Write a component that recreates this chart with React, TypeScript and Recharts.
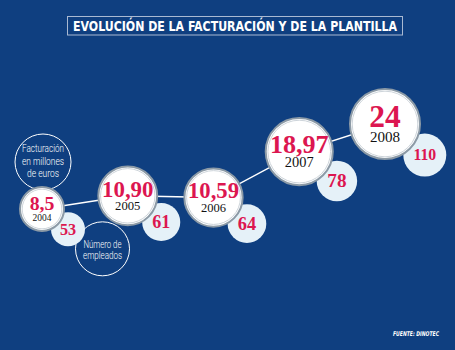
import { ScatterChart, Scatter, XAxis, YAxis } from "recharts";

const YEARS = [2004, 2005, 2006, 2007, 2008];
const REVENUE = [8.5, 10.9, 10.59, 18.97, 24];
const REVENUE_LABELS = ["8,5", "10,90", "10,59", "18,97", "24"];
const EMPLOYEES = [53, 61, 64, 78, 110];

const BG = "#0f3f80";
const RED = "#dc1650";
const SERIF = "'Liberation Serif', 'DejaVu Serif', serif";
const SANS = "'DejaVu Sans Condensed', 'DejaVu Sans', sans-serif";

const data = YEARS.map((year, i) => ({
  year,
  revenue: REVENUE[i],
  label: REVENUE_LABELS[i],
  employees: EMPLOYEES[i],
  idx: i,
}));

const minRev = Math.min(...REVENUE);
const maxRev = Math.max(...REVENUE);
const minEmp = Math.min(...EMPLOYEES);
const maxEmp = Math.max(...EMPLOYEES);

// bubble sizes grow with the value
const bigR = (v: number) => 22 + 13 * Math.pow((v - minRev) / (maxRev - minRev), 0.3);
const smallR = (n: number) => 17 + 4.5 * Math.pow((n - minEmp) / (maxEmp - minEmp), 0.4);

// rough width of a numeral string in em
const numEm = (s: string) =>
  s.split("").reduce((w, c) => w + (c === "," ? 0.25 : 0.5), 0);

function RevenueBubble(props: any) {
  const { cx, cy, payload } = props;
  const R = bigR(payload.revenue);
  const fs = Math.min(0.9 * R, (1.75 * R) / numEm(payload.label));
  const ys = 0.43 * R;
  const gap = 5;
  const block = 0.66 * fs + gap + 0.66 * ys;
  const numBase = cy - block / 2 + 0.66 * fs;
  const yearBase = cy + block / 2;

  return (
    <g>
      {payload.idx === 0 && (
        <g>
          <circle cx={cx + 1} cy={cy - R - 25} r={28} fill="none" stroke="#ffffff" strokeWidth={1} />
          <g fill="#ffffff" fontFamily="Roboto, sans-serif" fontWeight={300} fontSize={10} textAnchor="middle">
            <text x={cx + 1} y={cy - R - 35} textLength={42} lengthAdjust="spacingAndGlyphs">Facturación</text>
            <text x={cx + 1} y={cy - R - 22} textLength={42} lengthAdjust="spacingAndGlyphs">en millones</text>
            <text x={cx + 1} y={cy - R - 10} textLength={32} lengthAdjust="spacingAndGlyphs">de euros</text>
          </g>
        </g>
      )}
      <circle cx={cx} cy={cy} r={R} fill="#ffffff" stroke="#8c9aa6" strokeWidth={2} />
      <circle cx={cx} cy={cy} r={R - 2.2} fill="none" stroke="#cdd4da" strokeWidth={1} />
      <text x={cx} y={numBase} textAnchor="middle" fill={RED} fontFamily={SERIF} fontWeight="bold" fontSize={fs}>
        {payload.label}
      </text>
      <text x={cx} y={yearBase} textAnchor="middle" fill="#111111" fontFamily={SERIF} fontSize={ys}>
        {payload.year}
      </text>
    </g>
  );
}

function EmployeeBubble(props: any) {
  const { cx, cy, payload } = props;
  const R = bigR(payload.revenue);
  const r = smallR(payload.employees);
  const ang = (38 * Math.PI) / 180;
  const d = R + r - 6;
  const x = cx + d * Math.cos(ang);
  const y = cy + d * Math.sin(ang);
  const txt = String(payload.employees);
  const fs = Math.min(0.95 * r, (1.1 * r) / numEm(txt));

  return (
    <g>
      {payload.idx === 0 && (
        <g>
          <circle cx={x + 34.5} cy={y + 19.5} r={27} fill="none" stroke="#ffffff" strokeWidth={1} />
          <g fill="#ffffff" fontFamily="Roboto, sans-serif" fontWeight={300} fontSize={10} textAnchor="middle">
            <text x={x + 34.5} y={y + 19} textLength={38} lengthAdjust="spacingAndGlyphs">Número de</text>
            <text x={x + 34.5} y={y + 30} textLength={39} lengthAdjust="spacingAndGlyphs">empleados</text>
          </g>
        </g>
      )}
      <circle cx={x} cy={y} r={r} fill="#e5f1f8" />
      <text x={x} y={y + 0.33 * fs} textAnchor="middle" fill={RED} fontFamily={SERIF} fontWeight="bold" fontSize={fs}>
        {txt}
      </text>
    </g>
  );
}

export default function App() {
  return (
    <div style={{ position: "relative", width: 455, height: 350, background: BG, overflow: "hidden" }}>
      <style>{`body{margin:0}`}</style>
      <ScatterChart width={455} height={350} margin={{ top: 124, right: 70, bottom: 141, left: 42 }}>
        <XAxis type="number" dataKey="year" domain={[2004, 2008]} hide />
        <YAxis type="number" dataKey="revenue" domain={[minRev, maxRev]} hide />
        <Scatter
          data={data}
          name="Número de empleados"
          isAnimationActive={false}
          shape={(p: any) => <EmployeeBubble {...p} />}
        />
        <Scatter
          data={data}
          name="Facturación"
          isAnimationActive={false}
          line={{ stroke: "#ffffff", strokeWidth: 1.5 }}
          lineType="joint"
          shape={(p: any) => <RevenueBubble {...p} />}
        />
      </ScatterChart>
      <svg width={455} height={350} style={{ position: "absolute", left: 0, top: 0, pointerEvents: "none" }}>
        <rect x={67.5} y={16.5} width={335} height={18.5} fill="none" stroke="#a9b9d2" strokeWidth={1} />
        <text
          x={235}
          y={30.5}
          textAnchor="middle"
          fill="#ffffff"
          fontFamily={SANS}
          fontWeight="bold"
          fontSize={14}
          textLength={324}
          lengthAdjust="spacingAndGlyphs"
        >
          EVOLUCIÓN DE LA FACTURACIÓN Y DE LA PLANTILLA
        </text>
        <text
          x={416}
          y={336}
          textAnchor="middle"
          fill="#ffffff"
          fontFamily={SANS}
          fontWeight="bold"
          fontStyle="italic"
          fontSize={6.5}
          textLength={46}
          lengthAdjust="spacingAndGlyphs"
        >
          FUENTE: DINOTEC
        </text>
      </svg>
    </div>
  );
}
